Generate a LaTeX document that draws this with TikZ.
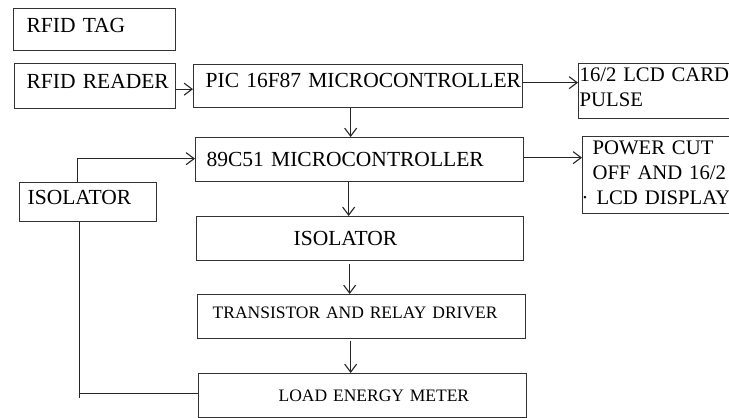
\documentclass[tikz,border=0pt]{standalone}
\usepackage{fontspec}
\setmainfont{Liberation Serif}
\usepackage{tikz}
\usetikzlibrary{arrows.meta,calc,positioning}

\tikzset{
  blk/.style={draw=black!80, line width=1.3pt, anchor=north west, inner sep=0pt, align=left,
    font=\fontsize{21.5}{25}\selectfont},
  sml/.style={font=\fontsize{17.5}{21}\selectfont},
  outbox/.style={font=\fontsize{20.7}{25}\selectfont},
  arr/.style={draw=black!85, line width=1.1pt, -{Straight Barb[length=8pt,width=12pt]}},
  wire/.style={draw=black!85, line width=1.1pt},
}

\begin{document}
\begin{tikzpicture}[x=1pt,y=-1pt]
\useasboundingbox (0,0) rectangle (729,418);
% left column
\node[blk, text width=162pt, minimum height=42pt, text depth=8pt] (tag) at (13,8) {\hspace*{13pt}RFID TAG};
\node[blk, text width=161pt, minimum height=45pt, text depth=10pt] (reader) at (14,63) {\hspace*{12pt}RFID READER};
\node[blk, text width=137pt, minimum height=39pt, text depth=9pt] (liso) at (19,182) {\hspace*{8pt}ISOLATOR};
% middle column
\node[blk, text width=329pt, minimum height=43pt, text depth=11pt] (pic) at (193,64) {\hspace*{12pt}PIC 16F87 MICROCONTROLLER};
\node[blk, text width=328pt, minimum height=44pt] (c51) at (195,137) {\hspace*{11pt}89C51 MICROCONTROLLER};
\node[blk, text width=327pt, minimum height=44pt] (miso) at (196,216) {\hspace*{97pt}ISOLATOR};
\node[blk, sml, text width=328pt, minimum height=44pt, text depth=7pt] (trans) at (197,294) {\hspace*{15pt}TRANSISTOR AND RELAY DRIVER};
\node[blk, sml, text width=328pt, minimum height=44pt] (load) at (198,373) {\hspace*{80pt}LOAD ENERGY METER};
% right column
\node[blk, outbox, text width=151pt, minimum height=55pt, text depth=33pt] (lcd) at (578,63) {\hspace*{1pt}16/2 LCD CARD\\\hspace*{1pt}PULSE};
\node[blk, outbox, text width=160pt, minimum height=77pt, text depth=55pt] (power) at (582,136)
  {\hspace*{10pt}POWER CUT\\\hspace*{10pt}OFF AND 16/2\\\hspace*{-1pt}·\hspace*{8pt}LCD DISPLAY};
\path ([xshift=-8.5pt]liso.south) ++(0,176) coordinate (foot);

% arrows
\draw[arr] ([yshift=-3pt]reader.east) -- ([yshift=-3pt]reader.east -| pic.west);
\draw[arr] ([yshift=3.5pt]pic.east) -- ([yshift=3.5pt]pic.east -| lcd.west);
\draw[arr] ([xshift=-7.5pt]pic.south) -- ([xshift=-7.5pt]pic.south |- c51.north);
\draw[arr] ([yshift=2pt]c51.east) -- ([yshift=2pt]c51.east -| power.west);
\draw[arr] ([xshift=-11pt]c51.south) -- ([xshift=-11pt]c51.south |- miso.north);
\draw[arr, shorten <=3pt] ([xshift=-10.5pt]miso.south) -- ([xshift=-10.5pt]miso.south |- trans.north);
\draw[arr, shorten <=2pt] ([xshift=-11pt]trans.south) -- ([xshift=-11pt]trans.south |- load.north);
% feedback loop
\draw[wire] ([yshift=2pt]load.west) -- ([yshift=2pt]load.west -| foot);
\draw[wire] (foot) -- ([xshift=-8.5pt]liso.south);
\draw[arr] ([xshift=-10.5pt]liso.north) |- ([yshift=1pt]c51.west);
\end{tikzpicture}
\end{document}
